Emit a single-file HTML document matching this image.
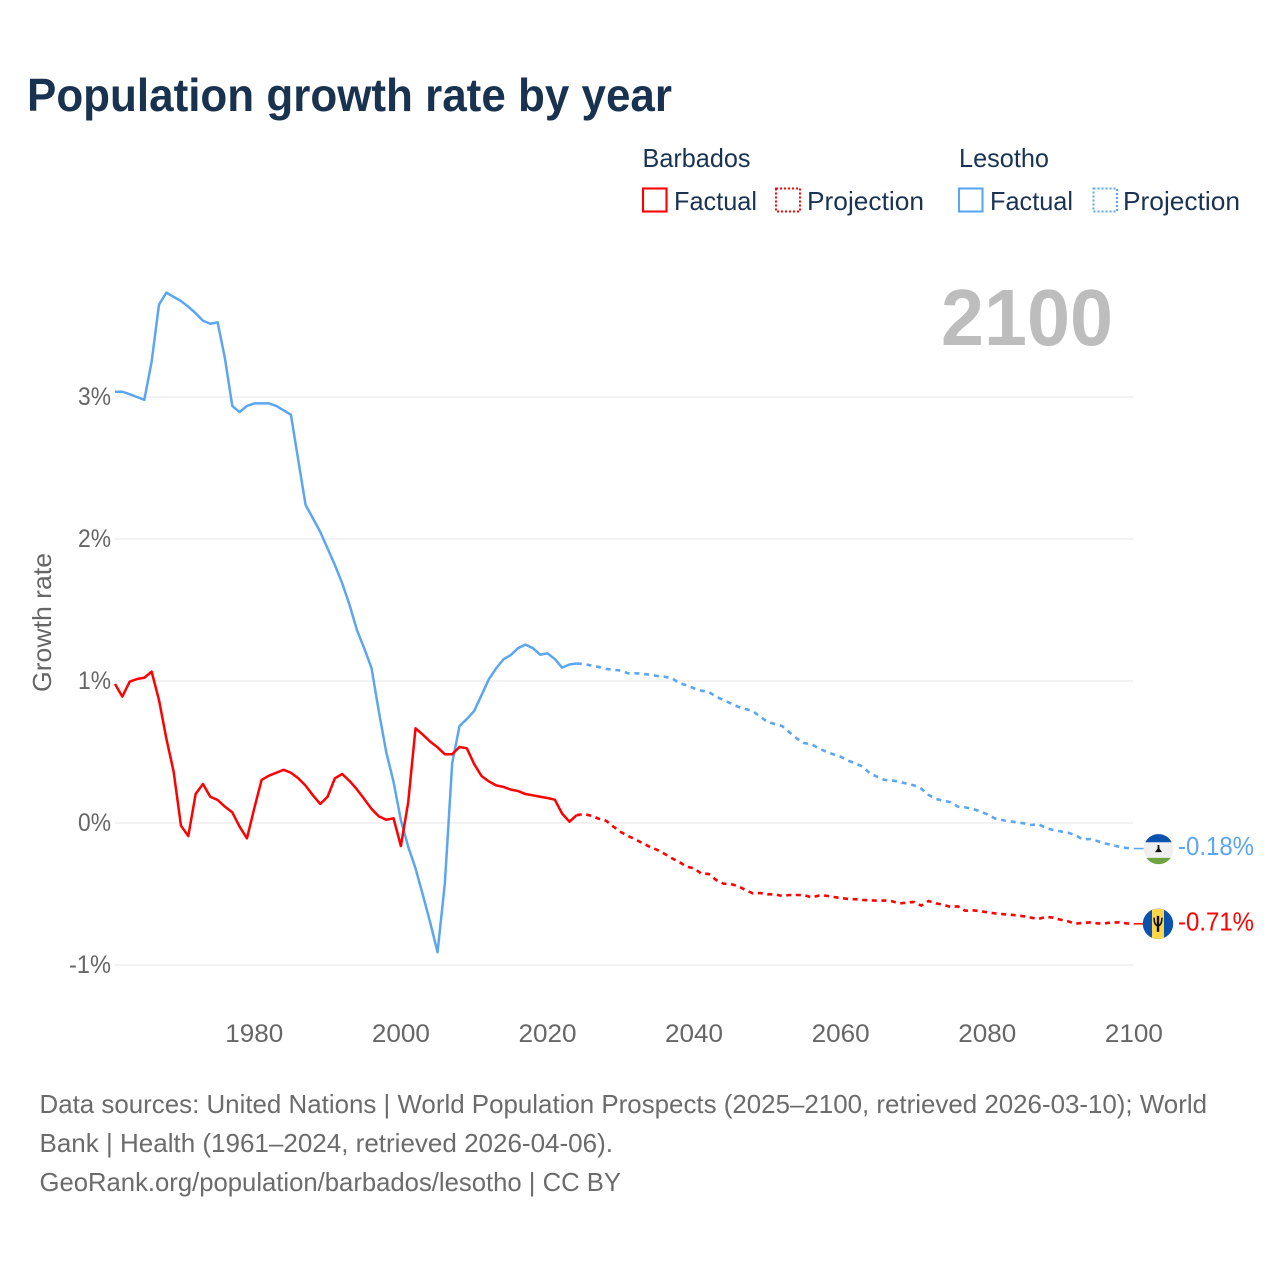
<!DOCTYPE html>
<html lang="en">
<head>
<meta charset="utf-8">
<title>Population growth rate by year</title>
<style>
html,body{margin:0;padding:0;background:#fff;width:1280px;height:1280px;overflow:hidden}
svg{display:block}
text{font-family:"Liberation Sans",sans-serif}
</style>
</head>
<body>
<svg id="chart" xmlns="http://www.w3.org/2000/svg" width="1280" height="1280" viewBox="0 0 1280 1280">
  <rect width="1280" height="1280" fill="#ffffff"/>
  <text x="27" y="111" font-size="46" font-weight="700" fill="#18324f" textLength="645" lengthAdjust="spacingAndGlyphs">Population growth rate by year</text>

  <g fill="#1a3353" font-size="26">
    <text x="642.5" y="167" textLength="108" lengthAdjust="spacingAndGlyphs">Barbados</text>
    <rect x="643" y="188.5" width="23.5" height="23" fill="none" stroke="#ff0000" stroke-width="2.1"/>
    <text x="674" y="210" textLength="83" lengthAdjust="spacingAndGlyphs">Factual</text>
    <rect x="776" y="188.5" width="24" height="23" fill="none" stroke="#ff0000" stroke-width="2" stroke-dasharray="2 2"/>
    <text x="807" y="210" textLength="117" lengthAdjust="spacingAndGlyphs">Projection</text>
    <text x="959" y="167" textLength="90" lengthAdjust="spacingAndGlyphs">Lesotho</text>
    <rect x="959" y="188.5" width="23.5" height="23" fill="none" stroke="#5ca6ef" stroke-width="2.1"/>
    <text x="990" y="210" textLength="83" lengthAdjust="spacingAndGlyphs">Factual</text>
    <rect x="1093.5" y="188.5" width="23.5" height="23" fill="none" stroke="#5ca6ef" stroke-width="2" stroke-dasharray="2 2"/>
    <text x="1123" y="210" textLength="117" lengthAdjust="spacingAndGlyphs">Projection</text>
  </g>

  <text x="941" y="345" font-size="80" font-weight="700" fill="#bdbdbd" textLength="172" lengthAdjust="spacingAndGlyphs">2100</text>

  <g id="grid"></g>
  <g id="yticks" font-size="25" fill="#666666" text-anchor="end"></g>
  <g id="xticks" font-size="25" fill="#666666" text-anchor="middle"></g>
  <text transform="translate(51 692) rotate(-90)" font-size="26" fill="#666666" textLength="139" lengthAdjust="spacingAndGlyphs">Growth rate</text>
  <g id="series" fill="none" stroke-linejoin="round"></g>
  <g id="ends"></g>

  <g font-size="26" fill="#6b6b6b">
    <text x="39.5" y="1113" textLength="1167.5" lengthAdjust="spacingAndGlyphs">Data sources: United Nations | World Population Prospects (2025–2100, retrieved 2026-03-10); World</text>
    <text x="39.5" y="1152" textLength="573.5" lengthAdjust="spacingAndGlyphs">Bank | Health (1961–2024, retrieved 2026-04-06).</text>
    <text x="39.5" y="1191" textLength="581.5" lengthAdjust="spacingAndGlyphs">GeoRank.org/population/barbados/lesotho | CC BY</text>
  </g>
</svg>
<script>
var firstYear = 1961;
var lastFactualYear = 2024;
var yTickValues = [3, 2, 1, 0, -1];
var yTickLabels = ["3%", "2%", "1%", "0%", "-1%"];
var xTickYears = [1980, 2000, 2020, 2040, 2060, 2080, 2100];
var xTickLabels = ["1980", "2000", "2020", "2040", "2060", "2080", "2100"];

var lesothoFactual = [3.037,3.037,3.02,3.0,2.98,3.25,3.65,3.735,3.705,3.676,3.636,3.59,3.537,3.516,3.526,3.272,2.937,2.894,2.937,2.955,2.955,2.955,2.937,2.906,2.875,2.556,2.24,2.146,2.05,1.934,1.817,1.688,1.535,1.36,1.23,1.09,0.784,0.5,0.29,0.02,-0.167,-0.32,-0.507,-0.7,-0.91,-0.425,0.42,0.683,0.732,0.789,0.9,1.012,1.089,1.153,1.183,1.232,1.256,1.232,1.185,1.195,1.155,1.094,1.116,1.123];
var lesothoProjection = [1.12,1.108,1.099,1.085,1.08,1.073,1.054,1.054,1.051,1.044,1.035,1.03,1.019,0.984,0.97,0.948,0.932,0.923,0.89,0.866,0.843,0.819,0.803,0.789,0.749,0.713,0.697,0.683,0.639,0.596,0.563,0.556,0.526,0.502,0.484,0.467,0.439,0.42,0.397,0.349,0.325,0.303,0.3,0.291,0.277,0.265,0.242,0.197,0.169,0.157,0.146,0.115,0.11,0.1,0.082,0.061,0.033,0.021,0.012,0.005,-0.002,-0.014,-0.009,-0.035,-0.049,-0.059,-0.068,-0.085,-0.115,-0.113,-0.127,-0.143,-0.155,-0.167,-0.176,-0.18];
var barbadosFactual = [0.979,0.89,0.995,1.014,1.023,1.066,0.866,0.596,0.361,-0.019,-0.092,0.204,0.275,0.185,0.162,0.115,0.075,-0.026,-0.108,0.103,0.303,0.333,0.354,0.375,0.354,0.315,0.263,0.195,0.134,0.185,0.315,0.345,0.296,0.237,0.169,0.099,0.047,0.023,0.033,-0.162,0.146,0.667,0.622,0.573,0.533,0.484,0.484,0.535,0.526,0.415,0.331,0.293,0.265,0.254,0.235,0.225,0.204,0.195,0.185,0.176,0.164,0.066,0.009,0.056];
var barbadosProjection = [0.063,0.051,0.03,0.016,-0.026,-0.063,-0.092,-0.115,-0.143,-0.169,-0.19,-0.218,-0.249,-0.275,-0.308,-0.319,-0.357,-0.359,-0.401,-0.427,-0.43,-0.444,-0.472,-0.495,-0.493,-0.502,-0.502,-0.514,-0.507,-0.507,-0.507,-0.524,-0.512,-0.512,-0.521,-0.528,-0.535,-0.537,-0.542,-0.545,-0.546,-0.546,-0.551,-0.566,-0.561,-0.556,-0.582,-0.549,-0.566,-0.575,-0.592,-0.587,-0.618,-0.615,-0.62,-0.629,-0.636,-0.641,-0.646,-0.65,-0.657,-0.667,-0.676,-0.66,-0.667,-0.681,-0.692,-0.709,-0.704,-0.7,-0.707,-0.707,-0.7,-0.7,-0.707,-0.71];
var lesothoEndLabel = "-0.18%";
var barbadosEndLabel = "-0.71%";

var SVGNS = "http://www.w3.org/2000/svg";
var BLUE = "#5ca6ef";
var RED = "#ff0000";
function xScale(year) { return 115 + (year - 1961) * 7.33; }
function yScale(v) { return 823 - v * 142; }
function make(tag, parent) {
  var el = document.createElementNS(SVGNS, tag);
  parent.appendChild(el);
  return el;
}
function linePath(startYear, values) {
  var d = "";
  for (var i = 0; i < values.length; i++) {
    d += (d ? "L" : "M") + xScale(startYear + i).toFixed(2) + " " + yScale(values[i]).toFixed(2);
  }
  return d;
}

var gridG = document.getElementById("grid");
var yG = document.getElementById("yticks");
yTickValues.forEach(function (v, i) {
  var ln = make("line", gridG);
  
  
  ln.setAttribute("x1", 115);
  ln.setAttribute("x2", 1133);
  ln.setAttribute("y1", yScale(v));
  ln.setAttribute("y2", yScale(v));
  ln.setAttribute("stroke", "#eeeeee");
  ln.setAttribute("stroke-width", 1.6);
  var t = make("text", yG);
  
  
  t.setAttribute("x", 111);
  t.setAttribute("y", yScale(v) + 8);
  t.setAttribute("textLength", yTickLabels[i].length * 9 + 15);
  t.setAttribute("lengthAdjust", "spacingAndGlyphs");
  t.textContent = yTickLabels[i];
});

var xG = document.getElementById("xticks");
xTickYears.forEach(function (yr, i) {
  var t = make("text", xG);
  
  
  t.setAttribute("x", xScale(yr));
  t.setAttribute("y", 1042);
  t.setAttribute("textLength", 58);
  t.setAttribute("lengthAdjust", "spacingAndGlyphs");
  t.textContent = xTickLabels[i];
});

var seriesG = document.getElementById("series");
var pr = make("path", seriesG);


pr.setAttribute("d", linePath(lastFactualYear, [barbadosFactual[barbadosFactual.length - 1]].concat(barbadosProjection)));
pr.setAttribute("stroke", RED);
pr.setAttribute("stroke-width", 2.6);
pr.setAttribute("stroke-dasharray", "5 4.6");
var pb = make("path", seriesG);


pb.setAttribute("d", linePath(lastFactualYear, [lesothoFactual[lesothoFactual.length - 1]].concat(lesothoProjection)));
pb.setAttribute("stroke", BLUE);
pb.setAttribute("stroke-width", 2.6);
pb.setAttribute("stroke-dasharray", "5 4.8");
var fb = make("path", seriesG);


fb.setAttribute("d", linePath(firstYear, lesothoFactual));
fb.setAttribute("stroke", BLUE);
fb.setAttribute("stroke-width", 2.5);
var fr = make("path", seriesG);


fr.setAttribute("d", linePath(firstYear, barbadosFactual));
fr.setAttribute("stroke", RED);
fr.setAttribute("stroke-width", 2.5);

var endsG = document.getElementById("ends");
var x2100 = xScale(2100);

/* Lesotho end marker */
var yL = yScale(lesothoProjection[lesothoProjection.length - 1]);
var leadL = make("line", endsG);


leadL.setAttribute("x1", x2100);
leadL.setAttribute("x2", x2100 + 10);
leadL.setAttribute("y1", yL);
leadL.setAttribute("y2", yL);
leadL.setAttribute("stroke", BLUE);
leadL.setAttribute("stroke-width", 1.5);
var flagL = make("g", endsG);


flagL.setAttribute("transform", "translate(1158.5 " + yL + ")");
flagL.innerHTML =
  '<circle r="15" fill="#efefef"/>' +
  '<path d="M-13.1 -6.3A14.6 14.6 0 0 1 13.1 -6.3Z" fill="#0a52b0"/>' +
  '<path d="M-12.2 9.3A15 15 0 0 0 12.2 9.3Z" fill="#6ea33f"/>' +
  '<path d="M-0.9 -3.5V0L-3.5 3.6H3.5L0.9 0V-3.5Z" fill="#111"/>';
var labL = make("text", endsG);


labL.setAttribute("x", 1178);
labL.setAttribute("y", yL + 6.5);
labL.setAttribute("font-size", 26);
labL.setAttribute("fill", BLUE);
labL.setAttribute("textLength", 76);
labL.setAttribute("lengthAdjust", "spacingAndGlyphs");
labL.textContent = lesothoEndLabel;

/* Barbados end marker */
var yB = yScale(barbadosProjection[barbadosProjection.length - 1]);
var leadB = make("line", endsG);


leadB.setAttribute("x1", x2100);
leadB.setAttribute("x2", x2100 + 10);
leadB.setAttribute("y1", yB);
leadB.setAttribute("y2", yB);
leadB.setAttribute("stroke", RED);
leadB.setAttribute("stroke-width", 1.5);
var flagB = make("g", endsG);


flagB.setAttribute("transform", "translate(1158 " + yB + ")");
flagB.innerHTML =
  '<circle r="15.2" fill="#0a52b0"/>' +
  '<path d="M-6 -13.9A15.2 15.2 0 0 1 6 -13.9V13.9A15.2 15.2 0 0 1 -6 13.9Z" fill="#ffd54a"/>' +
  '<path d="M-4.6 -6.5C-4.8 -2 -3.8 1.5 -1.2 2.4V8H1.2V2.4C3.8 1.5 4.8 -2 4.6 -6.5L3 -6C3.1 -3 2.5 -0.5 1.2 0.4V-8H-1.2V0.4C-2.5 -0.5 -3.1 -3 -3 -6Z" fill="#111"/>';
var labB = make("text", endsG);


labB.setAttribute("x", 1178);
labB.setAttribute("y", yB + 6.5);
labB.setAttribute("font-size", 26);
labB.setAttribute("fill", RED);
labB.setAttribute("textLength", 76);
labB.setAttribute("lengthAdjust", "spacingAndGlyphs");
labB.textContent = barbadosEndLabel;
</script>
</body>
</html>
